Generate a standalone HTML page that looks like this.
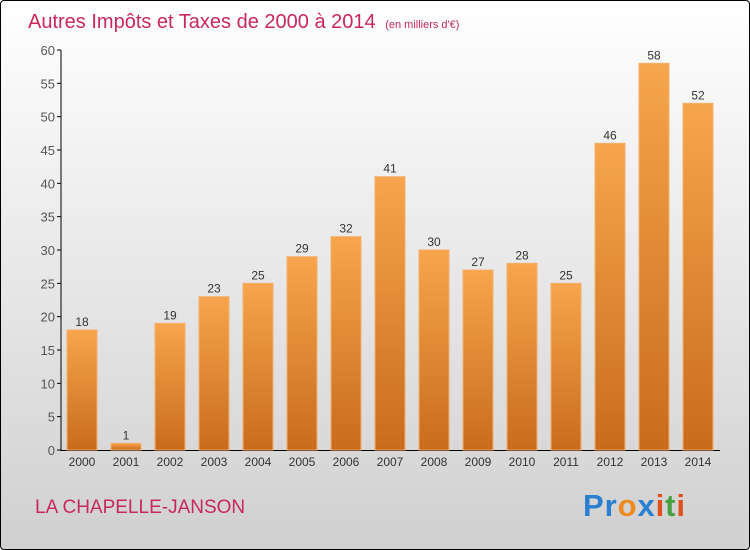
<!DOCTYPE html>
<html><head><meta charset="utf-8"><style>
body{margin:0;width:750px;height:550px;overflow:hidden;font-family:"Liberation Sans",sans-serif}
#wrap{position:absolute;left:0;top:0;width:748px;height:548px;border:1px solid #000;border-radius:4px;background:linear-gradient(#ffffff,#d0d0d0);}
</style></head><body>
<div id="wrap">
<svg width="750" height="550" style="position:absolute;left:-1px;top:-1px">
<defs><linearGradient id="bg" x1="0" y1="0" x2="0" y2="1"><stop offset="0" stop-color="#f7a54e"/><stop offset="1" stop-color="#c86c1c"/></linearGradient></defs>
<text x="28" y="28" font-size="20" fill="#c8285a">Autres Impôts et Taxes de 2000 à 2014 <tspan font-size="11" dx="4">(en milliers d'€)</tspan></text>
<g id="axes"></g><g id="bars"></g>
<text x="35" y="513" font-size="19" fill="#c8285a">LA CHAPELLE-JANSON</text>
<text x="583" y="516" font-size="31" font-weight="bold" textLength="102"><tspan fill="#2a7fd0">Pr</tspan><tspan fill="#f08a1c">o</tspan><tspan fill="#2a7fd0">x</tspan><tspan fill="#e0501c">i</tspan><tspan fill="#4aa040">t</tspan><tspan fill="#e0501c">i</tspan></text>
</svg></div>
<script>
const years=["2000","2001","2002","2003","2004","2005","2006","2007","2008","2009","2010","2011","2012","2013","2014"];
const values=[18,1,19,23,25,29,32,41,30,27,28,25,46,58,52];
const yTicks=[0,5,10,15,20,25,30,35,40,45,50,55,60];
const NS="http://www.w3.org/2000/svg";
const y=v=>450-v*400/60, x=i=>82+i*44;
function mk(t,a,p,txt){const e=document.createElementNS(NS,t);for(const k in a)e.setAttribute(k,a[k]);if(txt!=null)e.textContent=txt;p.appendChild(e);return e;}
const ax=document.getElementById('axes'),bg=document.getElementById('bars');
let l=mk('line',{x1:61,y1:50,x2:61,y2:451,stroke:'#000'},ax);


l=mk('line',{x1:61,y1:450.5,x2:720,y2:450.5,stroke:'#000'},ax);


yTicks.forEach(v=>{
 let t=mk('line',{x1:57,y1:y(v),x2:61,y2:y(v),stroke:'#000'},ax);
 
 
 let s=mk('text',{x:55,y:y(v)+5,'font-size':13,fill:'#555','text-anchor':'end'},ax,v);
 
 
});
values.forEach((v,i)=>{
 let r=mk('rect',{x:x(i)-15,y:y(v),width:30,height:450-y(v),fill:'url(#bg)',stroke:'#f5b06a','stroke-width':1},bg);
 
 
 let s=mk('text',{x:x(i),y:y(v)-4,'font-size':12,fill:'#333','text-anchor':'middle'},bg,v);
 
 
 s=mk('text',{x:x(i),y:466,'font-size':12,fill:'#333','text-anchor':'middle'},ax,years[i]);
 
 
});
</script>
</body></html>
